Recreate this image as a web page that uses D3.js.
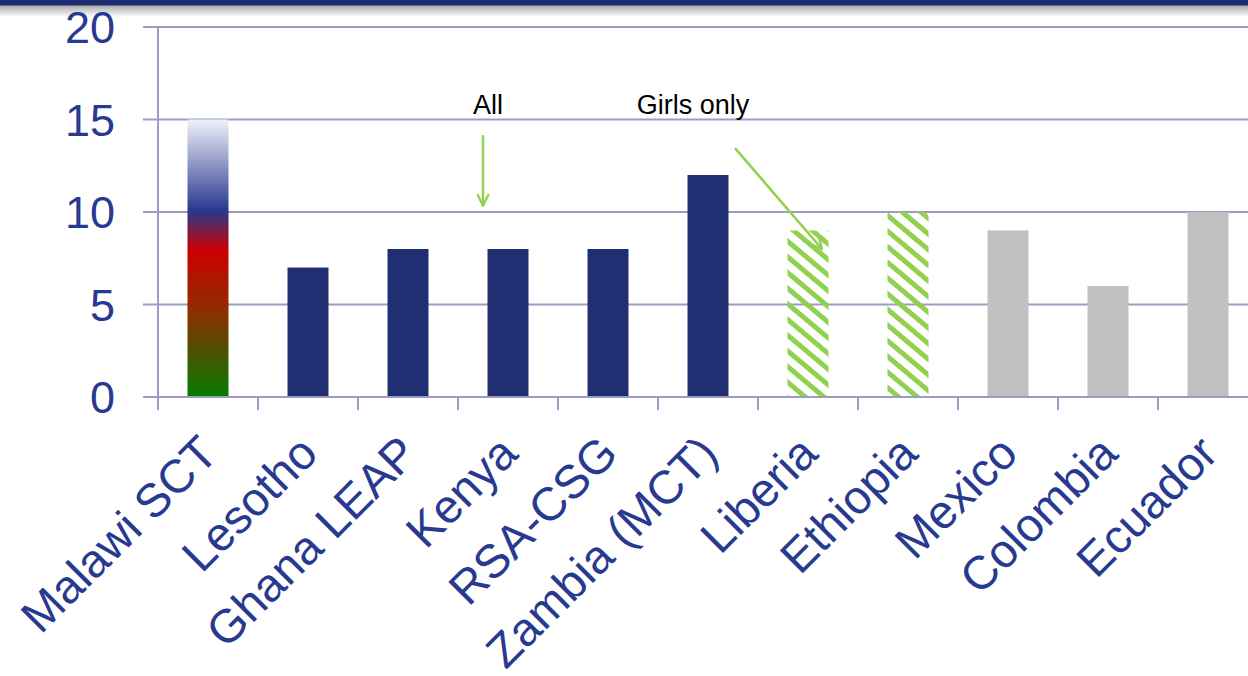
<!DOCTYPE html>
<html>
<head>
<meta charset="utf-8">
<script src="https://cdn.jsdelivr.net/npm/d3@7"></script>
<style>
  html, body { margin: 0; padding: 0; background: #fff; }
  svg { display: block; font-family: "Liberation Sans", Arial, sans-serif; }
</style>
</head>
<body>
<svg id="chart" width="1248" height="676"></svg>
<script>
// chart values
const categories = ["Malawi SCT", "Lesotho", "Ghana LEAP", "Kenya", "RSA-CSG", "Zambia (MCT)",
                    "Liberia", "Ethiopia", "Mexico", "Colombia", "Ecuador"];
const values = [15, 7, 8, 8, 8, 12, 9, 10, 9, 6, 10];
const groups = ["gradient", "all", "all", "all", "all", "all", "girls", "girls", "other", "other", "other"];
const yTicks = [0, 5, 10, 15, 20];

// annotation labels: [text, category, band fraction, value]
const noteLabels = [["All", "Kenya", 0.30, 15.3], ["Girls only", "Zambia (MCT)", 0.35, 15.3]];
// arrows: [from category, frac, value, to category, frac, value]
const noteArrows = [
    ["Kenya", 0.25, 14.15, "Kenya", 0.25, 10.35],
    ["Zambia (MCT)", 0.77, 13.45, "Liberia", 0.64, 8.0]
];

const textBlue = "#283a8f";
const gridCol = "#9a9cc2";
const green = "#92d050";

const svg = d3.select("#chart");

// header band
const defs = svg.append("defs");
const shade = defs.append("linearGradient").attr("id", "shade")
    .attr("x1", 0).attr("y1", 0).attr("x2", 0).attr("y2", 1);
shade.append("stop").attr("offset", 0).attr("stop-color", "#a8a8a8");
shade.append("stop").attr("offset", 1).attr("stop-color", "#ffffff");
svg.append("rect").attr("x", 0).attr("y", 5).attr("width", 1248).attr("height", 12).attr("fill", "url(#shade)");
svg.append("rect").attr("x", 0).attr("y", 0).attr("width", 1248).attr("height", 5.5).attr("fill", "#1f2b6f");

// malawi gradient
const grad = defs.append("linearGradient").attr("id", "malawi")
    .attr("x1", 0).attr("y1", 0).attr("x2", 0).attr("y2", 1);
[[0, "#f0f2fa"], [0.33, "#27388f"], [0.475, "#cc0000"], [0.7, "#8a3000"], [1, "#087a00"]]
    .forEach(s => grad.append("stop").attr("offset", s[0]).attr("stop-color", s[1]));

// hatch
const hatch = defs.append("pattern").attr("id", "hatch")
    .attr("patternUnits", "userSpaceOnUse")
    .attr("width", 12).attr("height", 12)
    .attr("patternTransform", "rotate(40)");
hatch.append("rect").attr("x", 0).attr("y", 0).attr("width", 12).attr("height", 5).attr("fill", green);

const marker = defs.append("marker").attr("id", "arrow")
    .attr("viewBox", "0 0 12 12").attr("refX", 11).attr("refY", 6)
    .attr("markerWidth", 13).attr("markerHeight", 13)
    .attr("markerUnits", "userSpaceOnUse")
    .attr("orient", "auto");
marker.append("path").attr("d", "M0,0.5 L11,6 L0,11.5")
    .attr("fill", "none").attr("stroke", green).attr("stroke-width", 2.2);

const x = d3.scaleBand().domain(categories).range([158, 1258]).paddingInner(0).paddingOuter(0);
const y = d3.scaleLinear().domain([0, 20]).range([397, 27]);
const barW = 41;

// gridlines
svg.append("g").selectAll("line").data(yTicks).join("line")
    .attr("x1", 143).attr("x2", 1248)
    .attr("y1", d => y(d)).attr("y2", d => y(d))
    .attr("stroke", gridCol).attr("stroke-width", 2);

// y axis
svg.append("line").attr("x1", 158).attr("x2", 158).attr("y1", y(20)).attr("y2", y(0) + 13)
    .attr("stroke", gridCol).attr("stroke-width", 2);

svg.append("g").selectAll("text").data(yTicks).join("text")
    .attr("x", 115).attr("y", d => y(d))
    .attr("dy", "0.36em")
    .attr("text-anchor", "end")
    .attr("font-size", 45)
    .attr("fill", textBlue)
    .text(d => d);

// x ticks
svg.append("g").selectAll("line").data(categories.slice(1)).join("line")
    .attr("x1", d => x(d)).attr("x2", d => x(d))
    .attr("y1", y(0)).attr("y2", y(0) + 13)
    .attr("stroke", gridCol).attr("stroke-width", 2);

const fillFor = g => g === "gradient" ? "url(#malawi)" : g === "all" ? "#222e72"
    : g === "girls" ? "url(#hatch)" : "#c0c0c0";

svg.append("g").selectAll("rect").data(categories).join("rect")
    .attr("x", d => x(d) + x.bandwidth() / 2 - barW / 2)
    .attr("width", barW)
    .attr("y", (d, i) => y(values[i]))
    .attr("height", (d, i) => y(0) - y(values[i]) - 1)
    .attr("fill", (d, i) => fillFor(groups[i]));

// x labels
svg.append("g").selectAll("text").data(categories).join("text")
    .attr("transform", d => `translate(${x(d) + x.bandwidth() / 2 + 12},456) rotate(-45)`)
    .attr("text-anchor", "end")
    .attr("font-size", 47)
    .attr("fill", textBlue)
    .text(d => d);

// annotations
svg.append("g").selectAll("text").data(noteLabels).join("text")
    .attr("x", d => x(d[1]) + d[2] * x.step())
    .attr("y", d => y(d[3]))
    .attr("text-anchor", "middle")
    .attr("font-size", 27)
    .attr("fill", "#000")
    .text(d => d[0]);

svg.append("g").selectAll("line").data(noteArrows).join("line")
    .attr("x1", d => x(d[0]) + d[1] * x.step())
    .attr("y1", d => y(d[2]))
    .attr("x2", d => x(d[3]) + d[4] * x.step())
    .attr("y2", d => y(d[5]))
    .attr("stroke", green).attr("stroke-width", 2.5)
    .attr("marker-end", "url(#arrow)");
</script>
</body>
</html>
